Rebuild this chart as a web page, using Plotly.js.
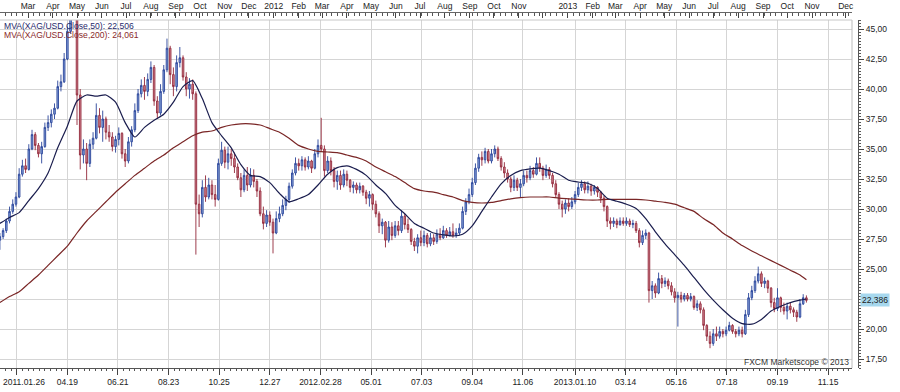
<!DOCTYPE html>
<html><head><meta charset="utf-8">
<script src="https://cdn.plot.ly/plotly-3.0.1.min.js"></script>
<style>html,body{margin:0;padding:0;background:#fff}#chart{width:900px;height:392px}</style>
</head><body><div id="chart"></div>
<script>
// sampling grid of the candles (one candle every 4 calendar days)
const startDate = '2011-01-25';
const stepDays = 4;

const openP = [
 27.4,27.7,28.2,29.0,29.8,30.4,31.0,32.9,33.6,33.3,
 35.0,36.2,35.3,34.6,35.2,36.8,37.2,37.9,38.4,40.2,
 40.6,42.5,44.8,47.5,48.6,39.5,34.5,35.0,33.8,35.4,
 35.9,37.8,36.8,37.5,36.4,36.0,35.2,35.8,36.3,34.6,
 34.0,35.6,36.6,38.2,39.6,40.3,39.8,40.8,41.8,39.0,
 38.0,39.8,41.6,43.4,41.2,40.2,42.2,42.6,41.0,40.0,
 40.4,39.6,30.4,29.6,31.8,31.0,32.0,31.2,30.8,33.8,
 34.9,33.9,34.6,34.2,33.5,32.6,31.6,32.8,32.0,32.8,
 32.3,31.5,29.6,28.8,29.5,28.9,28.0,29.2,29.6,30.3,
 30.8,31.9,33.0,33.8,33.6,34.1,33.5,34.0,33.4,34.6,
 35.3,35.0,33.2,34.0,33.2,32.3,32.8,32.0,32.9,32.4,
 31.8,32.0,31.6,31.9,31.4,30.9,31.2,30.4,29.6,28.6,
 28.9,27.4,28.5,27.8,28.6,28.2,29.4,28.7,28.3,27.3,
 26.9,27.6,27.2,27.8,27.1,27.6,27.3,27.9,27.6,28.2,
 27.8,28.1,27.8,28.0,28.4,29.8,30.6,31.2,32.2,33.4,
 34.3,34.1,34.8,34.0,34.6,35.0,34.2,33.5,33.0,32.5,
 31.8,32.4,31.8,32.1,32.8,32.6,33.2,32.9,33.8,33.4,
 32.8,33.3,32.8,32.1,31.2,30.4,30.0,30.5,30.2,30.6,
 31.2,31.8,32.1,31.6,31.9,31.5,31.8,31.4,30.9,30.2,
 29.0,28.8,29.0,28.7,29.0,28.8,29.0,28.7,28.8,28.2,
 27.2,27.8,28.0,23.2,23.6,23.0,24.2,23.8,24.0,23.6,
 23.1,22.6,22.8,22.5,22.8,22.5,22.7,21.8,22.1,21.6,
 20.3,19.4,18.8,19.6,19.4,19.8,19.6,19.9,20.3,19.8,
 19.6,19.9,19.6,21.2,22.6,23.2,24.0,24.6,23.8,24.0,
 23.4,22.2,21.7,22.6,21.8,21.5,21.9,21.6,21.4,21.0,
 22.1,22.6];

const highP = [
 28.0,28.4,29.2,30.2,30.8,31.4,33.4,34.1,34.2,35.4,
 36.6,36.4,35.5,35.6,37.2,37.8,38.3,38.8,40.7,41.2,
 43.0,45.2,48.2,49.8,48.8,40.0,35.8,35.5,35.8,36.4,
 38.8,38.4,38.2,37.7,37.0,36.4,36.1,36.8,36.4,35.0,
 36.0,36.9,38.8,40.0,40.8,41.0,41.3,42.3,42.0,39.4,
 40.4,42.0,44.2,43.6,41.8,42.8,43.5,42.8,41.4,40.9,
 40.8,39.8,31.2,32.4,32.8,32.6,32.4,32.0,34.2,35.6,
 35.2,35.2,35.0,34.7,33.8,33.0,33.3,33.5,33.4,33.3,
 32.5,31.8,30.2,29.9,29.8,29.2,29.8,30.2,30.8,31.1,
 32.2,33.3,34.3,34.2,34.4,34.3,34.4,34.1,35.0,35.8,
 37.6,35.3,34.4,34.3,33.5,33.2,33.2,33.3,33.2,32.5,
 32.3,32.2,32.2,32.0,31.6,31.5,31.3,30.7,29.8,29.2,
 29.0,29.0,28.9,29.0,29.0,29.9,29.6,29.2,28.4,27.6,
 27.9,28.2,28.2,28.0,28.0,27.9,28.3,28.4,28.6,28.4,
 28.5,28.8,28.4,28.8,30.2,30.9,31.7,32.6,33.8,34.6,
 34.8,35.1,35.0,35.0,35.3,35.2,34.4,33.9,33.3,32.7,
 32.8,32.6,32.5,33.2,33.2,33.6,33.5,34.3,34.3,33.6,
 33.7,33.5,33.0,32.4,31.4,30.7,30.8,30.9,31.0,31.5,
 32.2,32.4,32.3,32.3,32.1,32.0,31.9,31.5,31.1,30.3,
 29.3,29.3,29.2,29.3,29.3,29.3,29.2,29.1,29.0,28.4,
 28.2,28.3,28.1,24.0,23.8,24.7,24.5,24.3,24.2,23.9,
 23.4,23.1,23.1,23.0,23.0,23.0,22.8,22.4,22.3,21.8,
 20.4,19.8,20.0,20.2,20.2,20.0,20.2,20.6,20.4,20.0,
 20.2,20.2,21.6,23.0,23.6,24.4,25.2,24.8,24.3,24.1,
 23.5,22.6,23.4,22.7,22.2,22.2,22.2,21.8,21.6,22.5,
 22.9,22.8];

const lowP = [
 26.6,27.5,28.0,28.8,29.6,30.2,30.9,32.7,33.0,33.2,
 34.9,34.9,34.3,33.8,35.1,36.5,36.8,37.5,38.3,39.8,
 40.5,42.4,44.6,47.0,37.0,33.3,33.8,32.4,33.5,35.0,
 35.8,36.3,35.6,35.8,35.6,34.8,34.7,35.3,34.2,33.5,
 33.8,35.2,36.4,38.0,39.3,39.1,39.4,40.5,38.6,37.5,
 37.8,39.6,41.4,40.4,39.4,39.8,41.8,40.7,39.4,39.2,
 39.1,26.2,28.5,29.3,30.6,30.8,30.8,30.2,30.7,33.6,
 33.4,33.3,33.6,33.0,32.4,31.0,31.4,31.5,31.8,31.8,
 31.0,29.4,28.3,28.5,28.6,26.3,27.9,28.9,29.4,29.9,
 30.5,31.7,32.8,33.2,33.2,33.2,33.3,33.0,33.3,34.3,
 34.8,32.7,33.0,32.8,31.8,31.6,31.6,31.8,31.9,31.4,
 31.3,31.3,31.3,31.1,30.4,30.2,29.9,29.3,28.0,27.9,
 26.8,27.2,27.4,27.6,27.8,28.0,28.3,28.0,27.0,26.5,
 26.3,26.9,26.9,26.8,26.9,27.0,27.1,27.4,27.5,27.6,
 27.7,27.6,27.6,27.8,28.3,29.5,30.4,31.0,32.0,33.1,
 33.6,33.8,33.8,33.8,34.3,34.0,33.2,32.6,32.2,31.4,
 31.5,31.5,31.0,31.9,32.2,32.4,32.6,32.8,33.1,32.4,
 32.6,32.5,31.8,31.0,30.0,29.3,29.6,29.8,30.0,30.4,
 31.0,31.5,31.3,31.3,31.1,31.2,31.0,30.5,29.8,28.5,
 28.3,28.5,28.4,28.6,28.6,28.6,28.5,28.4,28.0,26.8,
 27.0,27.5,22.2,22.5,22.6,22.9,23.4,23.5,23.3,22.8,
 22.2,20.2,22.2,22.3,22.3,22.3,21.6,21.5,21.3,19.9,
 19.0,18.4,18.6,19.0,19.2,19.3,19.4,19.8,19.6,19.3,
 19.4,19.3,19.5,21.0,22.4,23.0,23.8,23.5,23.4,23.0,
 21.8,21.4,21.5,21.4,21.2,20.8,21.3,21.0,20.6,20.9,
 22.0,22.2];

const closeP = [
 27.7,28.2,29.0,29.8,30.4,31.0,32.9,33.6,33.3,35.0,
 36.2,35.3,34.6,35.2,36.8,37.2,37.9,38.4,40.2,40.6,
 42.5,44.8,47.5,48.6,39.5,34.5,35.0,33.8,35.4,35.9,
 37.8,36.8,37.5,36.4,36.0,35.2,35.8,36.3,34.6,34.0,
 35.6,36.6,38.2,39.6,40.3,39.8,40.8,41.8,39.0,38.0,
 39.8,41.6,43.4,41.2,40.2,42.2,42.6,41.0,40.0,40.4,
 39.6,30.4,29.6,31.8,31.0,32.0,31.2,30.8,33.8,34.9,
 33.9,34.6,34.2,33.5,32.6,31.6,32.8,32.0,32.8,32.3,
 31.5,29.6,28.8,29.5,28.9,28.0,29.2,29.6,30.3,30.8,
 31.9,33.0,33.8,33.6,34.1,33.5,34.0,33.4,34.6,35.3,
 35.0,33.2,34.0,33.2,32.3,32.8,32.0,32.9,32.4,31.8,
 32.0,31.6,31.9,31.4,30.9,31.2,30.4,29.6,28.6,28.9,
 27.4,28.5,27.8,28.6,28.2,29.4,28.7,28.3,27.3,26.9,
 27.6,27.2,27.8,27.1,27.6,27.3,27.9,27.6,28.2,27.8,
 28.1,27.8,28.0,28.4,29.8,30.6,31.2,32.2,33.4,34.3,
 34.1,34.8,34.0,34.6,35.0,34.2,33.5,33.0,32.5,31.8,
 32.4,31.8,32.1,32.8,32.6,33.2,32.9,33.8,33.4,32.8,
 33.3,32.8,32.1,31.2,30.4,30.0,30.5,30.2,30.6,31.2,
 31.8,32.1,31.6,31.9,31.5,31.8,31.4,30.9,30.2,29.0,
 28.8,29.0,28.7,29.0,28.8,29.0,28.7,28.8,28.2,27.2,
 27.8,28.0,23.2,23.6,23.0,24.2,23.8,24.0,23.6,23.1,
 22.6,22.8,22.5,22.8,22.5,22.7,21.8,22.1,21.6,20.3,
 19.4,18.8,19.6,19.4,19.8,19.6,19.9,20.3,19.8,19.6,
 19.9,19.6,21.2,22.6,23.2,24.0,24.6,23.8,24.0,23.4,
 22.2,21.7,22.6,21.8,21.5,21.9,21.6,21.4,21.0,22.1,
 22.6,22.386];

// moving averages, read at every 3rd candle (plus the last one)
const maStep = 3;
const ma50 = [
 28.8,29.3,29.7,30.7,31.7,33.0,35.1,36.9,39.0,39.5,
 39.4,39.5,38.9,37.2,36.0,36.8,37.4,37.9,38.9,40.2,
 40.7,39.2,37.2,36.1,35.1,33.7,32.8,32.7,32.2,31.3,
 30.6,30.85,31.2,32.0,32.9,33.45,33.6,33.3,32.8,32.0,
 31.3,30.3,29.6,28.8,28.4,28.0,27.85,27.75,27.9,28.6,
 29.8,31.0,32.1,32.8,33.2,33.35,33.4,33.2,32.9,32.4,
 32.25,32.15,31.7,30.9,30.65,30.4,30.05,29.2,28.1,27.1,
 26.2,25.3,24.3,23.3,22.4,21.6,20.9,20.45,20.4,20.8,
 21.5,21.9,22.2,22.4,22.5];
const ma200 = [
 22.2,22.7,23.1,23.8,24.5,25.3,26.1,26.9,28.0,29.0,
 29.8,30.6,31.4,32.1,32.8,33.4,34.0,34.5,35.1,35.6,
 36.1,36.4,36.5,36.8,37.0,37.1,37.1,37.0,36.7,36.4,
 35.9,35.3,35.0,34.8,34.75,34.7,34.5,34.3,34.0,33.5,
 33.1,32.7,32.2,31.7,31.5,31.4,31.2,31.0,30.7,30.55,
 30.5,30.55,30.7,30.85,30.95,31.0,31.0,31.0,30.9,30.85,
 30.8,30.75,30.75,30.8,30.8,30.8,30.8,30.75,30.65,30.55,
 30.4,30.1,29.8,29.2,28.7,28.0,27.5,26.95,26.5,26.1,
 25.7,25.3,24.9,24.5,24.1];

const ma50Label = 'MVA(XAG/USD.Close,50): 22,506';
const ma200Label = 'MVA(XAG/USD.Close,200): 24,061';
const lastPrice = 22.386;
const lastPriceText = '22,386';

const yTickVals = [17.5, 20, 22.5, 25, 27.5, 30, 32.5, 35, 37.5, 40, 42.5, 45];
const yTickText = ['17,50', '20,00', '', '25,00', '27,50', '30,00', '32,50', '35,00', '37,50', '40,00', '42,50', '45,00'];

// first bottom label sits flush with the left edge in the reference, so it is drawn separately
const firstBottomLabel = '2011.01.26';
const bottomTickDates = ['2011-02-15','2011-04-19','2011-06-21','2011-08-23','2011-10-25','2011-12-27',
 '2012-02-28','2012-05-01','2012-07-03','2012-09-04','2012-11-06','2013-01-10','2013-03-14',
 '2013-05-16','2013-07-18','2013-09-19','2013-11-21'];
const bottomTickText = ['','04.19','06.21','08.23','10.25','12.27','2012.02.28','05.01',
 '07.03','09.04','11.06','2013.01.10','03.14','05.16','07.18','09.19','11.15'];

const monthTickDates = ['2011-03-01','2011-04-01','2011-05-01','2011-06-01','2011-07-01','2011-08-01',
 '2011-09-01','2011-10-01','2011-11-01','2011-12-01','2012-01-01','2012-02-01','2012-03-01','2012-04-01',
 '2012-05-01','2012-06-01','2012-07-01','2012-08-01','2012-09-01','2012-10-01','2012-11-01','2012-12-01',
 '2013-01-01','2013-02-01','2013-03-01','2013-04-01','2013-05-01','2013-06-01','2013-07-01','2013-08-01',
 '2013-09-01','2013-10-01','2013-11-01','2013-12-13'];
const monthTickText = ['Mar','Apr','May','Jun','Jul','Aug','Sep','Oct','Nov','Dec','2012','Feb','Mar','Apr',
 'May','Jun','Jul','Aug','Sep','Oct','Nov','','2013','Feb','Mar','Apr','May','Jun','Jul','Aug','Sep','Oct',
 'Nov','Dec'];

// ---- build
const DAY = 864e5;
const t0 = Date.parse(startDate + 'T00:00:00Z');
const dates = closeP.map((_, i) => new Date(t0 + i * stepDays * DAY).toISOString().slice(0, 10));
const maDates = [];
for (let i = 0; i < dates.length; i += maStep) maDates.push(dates[i]);
if (maDates[maDates.length - 1] !== dates[dates.length - 1]) maDates.push(dates[dates.length - 1]);

const xRange = ['2011-01-25 03:27', '2013-12-20 18:00'];
const W = 900, H = 392;
const plotRight = 852 / W;
const yDom = [24 / H, 372 / H];
const FONT = 'Liberation Sans, Arial, sans-serif';

const traces = [
  {
    type: 'candlestick', x: dates, open: openP, high: highP, low: lowP, close: closeP,
    xaxis: 'x', yaxis: 'y', whiskerwidth: 0, hoverinfo: 'skip',
    increasing: {line: {color: '#29449a', width: 0.9}, fillcolor: '#8aa6dc'},
    decreasing: {line: {color: '#93283a', width: 0.9}, fillcolor: '#d28a96'}
  },
  {
    type: 'scatter', mode: 'lines', x: maDates, y: ma200, xaxis: 'x', yaxis: 'y',
    line: {color: '#7a2626', width: 1.2, shape: 'spline', smoothing: 0.6}, hoverinfo: 'skip'
  },
  {
    type: 'scatter', mode: 'lines', x: maDates, y: ma50, xaxis: 'x', yaxis: 'y',
    line: {color: '#1a1d4e', width: 1.2, shape: 'spline', smoothing: 0.6}, hoverinfo: 'skip'
  },
  {
    type: 'scatter', mode: 'markers', x: monthTickDates, y: monthTickDates.map(() => 46.2),
    xaxis: 'x2', yaxis: 'y', cliponaxis: false, hoverinfo: 'skip',
    marker: {symbol: 'triangle-down', size: 6, color: '#f2a32a', line: {color: '#b87410', width: 0.6}}
  }
];

const layout = {
  width: W, height: H, margin: {l: 0, r: 0, t: 0, b: 0},
  paper_bgcolor: '#ffffff', plot_bgcolor: '#ffffff',
  separators: ',.', showlegend: false,
  font: {family: FONT, size: 8.5, color: '#222'},
  xaxis: {
    type: 'date', domain: [0, plotRight], range: xRange, anchor: 'y',
    tickmode: 'array', tickvals: bottomTickDates, ticktext: bottomTickText,
    showgrid: true, gridcolor: '#d5d5d5', gridwidth: 1,
    ticks: 'outside', ticklen: 6, tickcolor: '#444', tickwidth: 1,
    showline: true, linecolor: '#555', linewidth: 1, zeroline: false,
    rangeslider: {visible: false}, fixedrange: true,
    tickfont: {family: FONT, size: 8.5, color: '#222'},
    minor: {ticks: 'outside', ticklen: 2, tickcolor: '#555', tickmode: 'linear',
            tick0: '2011-01-25', dtick: 7 * DAY, showgrid: false}
  },
  xaxis2: {
    type: 'date', domain: [0, plotRight], range: xRange, overlaying: 'x', side: 'top',
    anchor: 'free', position: 1 - 12 / H,
    tickmode: 'array', tickvals: monthTickDates, ticktext: monthTickText,
    ticks: 'inside', ticklen: 5, tickcolor: '#444', showline: true, linecolor: '#666',
    showgrid: false, zeroline: false, fixedrange: true,
    tickfont: {family: FONT, size: 8.5, color: '#222'},
    minor: {ticks: 'inside', ticklen: 3, tickcolor: '#555', tickmode: 'linear',
            tick0: '2011-01-25', dtick: 7 * DAY, showgrid: false}
  },
  yaxis: {
    domain: yDom, range: [16.75, 45.75], side: 'right', anchor: 'free', position: 858 / W,
    tickmode: 'array', tickvals: yTickVals, ticktext: yTickText,
    showgrid: true, gridcolor: '#d5d5d5', gridwidth: 1, zeroline: false,
    ticks: 'outside', ticklen: 5, tickcolor: '#444', showline: true, linecolor: '#555',
    fixedrange: true, tickfont: {family: FONT, size: 8.5, color: '#222'},
    minor: {ticks: 'outside', ticklen: 2, tickcolor: '#555', tickmode: 'linear', tick0: 17.5, dtick: 0.25, showgrid: false}
  },
  shapes: [
    {type: 'line', xref: 'paper', yref: 'paper', x0: plotRight, x1: plotRight, y0: yDom[0], y1: yDom[1],
     line: {color: '#bdbdbd', width: 1}},
    {type: 'line', xref: 'paper', yref: 'paper', x0: 0, x1: plotRight, y0: yDom[1], y1: yDom[1],
     line: {color: '#c8c8c8', width: 1}}
  ],
  annotations: [
    {text: ma50Label, xref: 'paper', yref: 'paper', x: 2 / W, y: 1 - 26 / H, xanchor: 'left', yanchor: 'middle',
     showarrow: false, font: {family: FONT, size: 8.6, color: '#1f2a6b'}},
    {text: ma200Label, xref: 'paper', yref: 'paper', x: 2 / W, y: 1 - 35 / H, xanchor: 'left', yanchor: 'middle',
     showarrow: false, font: {family: FONT, size: 8.6, color: '#8a2a2a'}},
    {text: firstBottomLabel, xref: 'paper', yref: 'paper', x: 1 / W, y: 1 - 382 / H, xanchor: 'left', yanchor: 'middle',
     showarrow: false, font: {family: FONT, size: 8.5, color: '#222'}},
    {text: 'FXCM Marketscope © 2013', xref: 'paper', yref: 'paper', x: 851 / W, y: 1 - 362 / H,
     xanchor: 'right', yanchor: 'middle', showarrow: false, font: {family: FONT, size: 8.5, color: '#333'}},
    {text: lastPriceText, xref: 'paper', yref: 'y', x: 860 / W, y: lastPrice, xanchor: 'left', yanchor: 'middle',
     showarrow: false, bgcolor: '#a7d8ee', borderpad: 1, font: {family: FONT, size: 8.5, color: '#222'}}
  ]
};

Plotly.newPlot('chart', traces, layout, {staticPlot: true, displayModeBar: false});
</script>
</body></html>
